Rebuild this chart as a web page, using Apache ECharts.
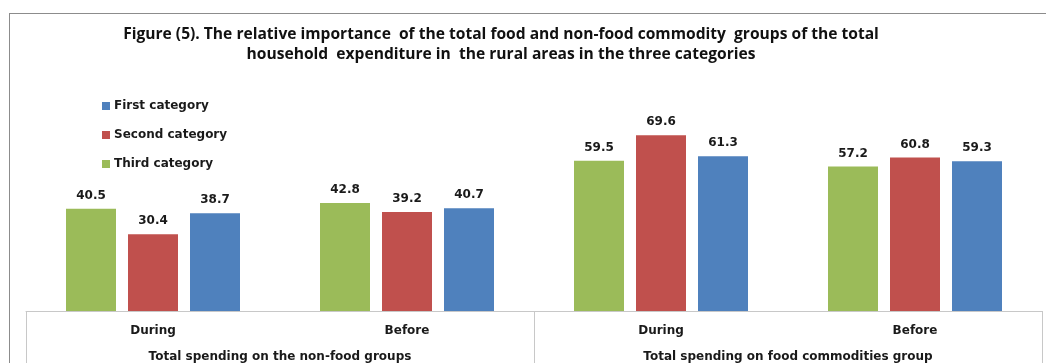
<!DOCTYPE html>
<html>
<head>
<meta charset="utf-8">
<script src="https://cdn.jsdelivr.net/npm/echarts@6/dist/echarts.min.js"></script>
<style>
  html, body { margin: 0; padding: 0; background: #fff; }
  #frame {
    position: absolute; left: 9px; top: 13px; width: 1037px; height: 350px;
    border-left: 1px solid #8c8c8c; border-top: 1px solid #8c8c8c;
  }
  #chart { position: absolute; left: 0; top: 0; width: 1046px; height: 363px; }
</style>
</head>
<body>
<div id="frame"></div>
<div id="chart"></div>
<script>
// Periods within each spending group
const periods = ['During', 'Before', 'During', 'Before'];
// Spending groups (second axis level)
const groups = ['Total spending on the non-food groups', 'Total spending on food commodities group'];
// Share of total household expenditure (%), one value per period/group
const thirdCategory  = [40.5, 42.8, 59.5, 57.2];
const secondCategory = [30.4, 39.2, 69.6, 60.8];
const firstCategory  = [38.7, 40.7, 61.3, 59.3];

const titleLines = [
  'Figure (5). The relative importance  of the total food and non-food commodity  groups of the total',
  'household  expenditure in  the rural areas in the three categories'
];

const chart = echarts.init(document.getElementById('chart'), null, { renderer: 'canvas' });

const labelStyle = {
  show: true, position: 'top', distance: 7,
  fontFamily: 'DejaVu Sans', fontWeight: 'bold', fontSize: 12, color: '#1a1a1a'
};

function barSeries(name, data, color) {
  return {
    name: name, type: 'bar', data: data,
    barWidth: 50, barGap: '24%',
    itemStyle: { color: color },
    label: labelStyle
  };
}

const axisFont = { fontFamily: 'DejaVu Sans', fontWeight: 'bold', fontSize: 12, color: '#1a1a1a' };

chart.setOption({
  animation: false,
  textStyle: { fontFamily: 'DejaVu Sans' },
  title: {
    text: titleLines.join('\n'),
    left: 496, top: 20, textAlign: 'center',
    textStyle: {
      fontFamily: 'Open Sans', fontWeight: 'bold', fontSize: 15.6,
      lineHeight: 20, color: '#111'
    }
  },
  legend: {
    orient: 'vertical', left: 102, top: 100, padding: 0,
    itemWidth: 8, itemHeight: 8, itemGap: 17, icon: 'rect',
    data: ['First category', 'Second category', 'Third category'],
    textStyle: Object.assign({ padding: [0, 0, 0, -1] }, axisFont)
  },
  grid: { left: 26, right: 4, top: 109, bottom: 52 },
  xAxis: [
    {
      type: 'category', data: periods, position: 'bottom',
      axisLine: { show: true, lineStyle: { color: '#c8c8c8', width: 1 } },
      axisTick: { show: false },
      axisLabel: Object.assign({ margin: 14 }, axisFont)
    },
    {
      type: 'category', data: groups, position: 'bottom', offset: 0,
      axisLine: { show: false },
      axisTick: { show: true, length: 60, interval: 0, lineStyle: { color: '#c8c8c8', width: 1 } },
      axisLabel: Object.assign({ margin: 40 }, axisFont)
    }
  ],
  yAxis: {
    type: 'value', min: 0, max: 80, show: false,
    splitLine: { show: false }
  },
  series: [
    barSeries('Third category', thirdCategory, '#9BBB59'),
    barSeries('Second category', secondCategory, '#C0504D'),
    barSeries('First category', firstCategory, '#4F81BD')
  ]
});
</script>
</body>
</html>
